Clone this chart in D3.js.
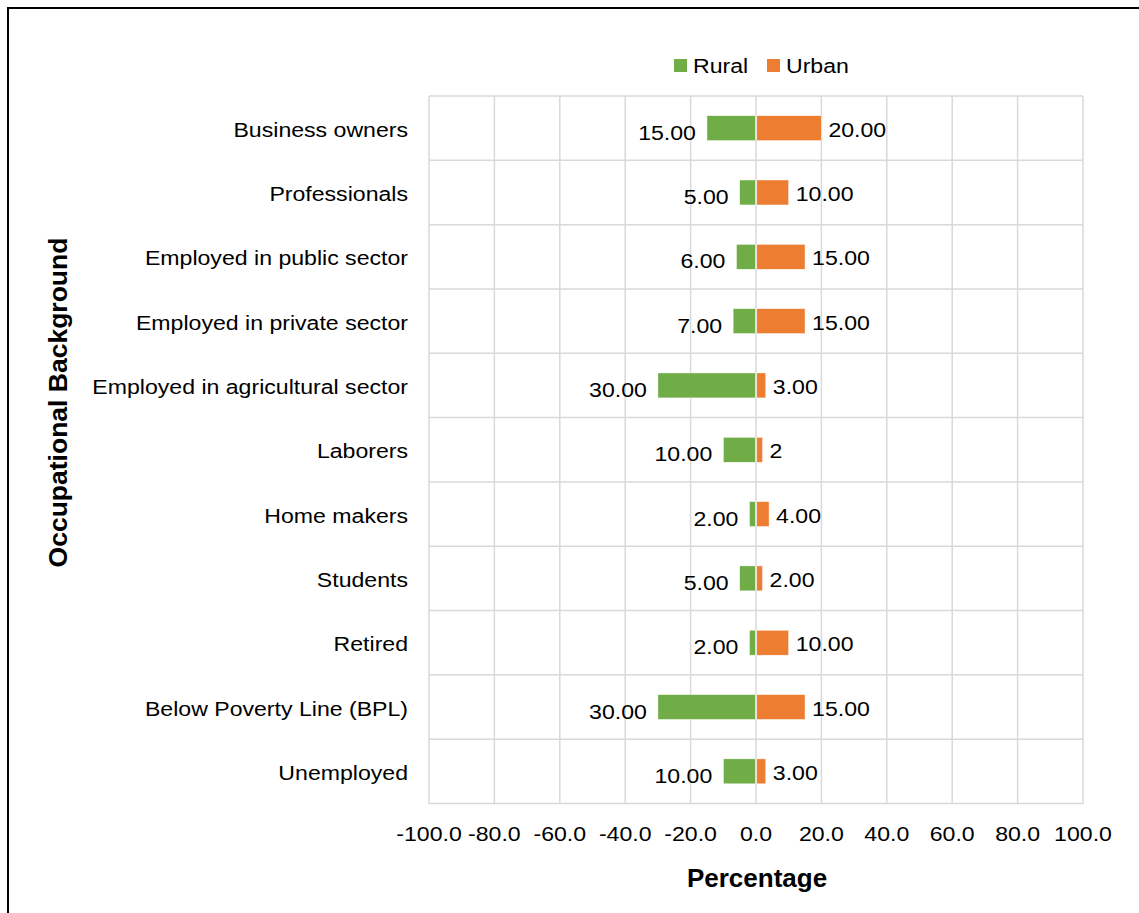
<!DOCTYPE html>
<html>
<head>
<meta charset="utf-8">
<script src="https://cdn.jsdelivr.net/npm/d3@7"></script>
<style>
  html, body { margin: 0; padding: 0; background: #fff; }
  svg { display: block; }
  text { font-family: "Liberation Sans", Arial, sans-serif; fill: #000; }
</style>
</head>
<body>
<svg id="chart" width="1139" height="913"></svg>
<script>
const categories = ["Business owners","Professionals","Employed in public sector","Employed in private sector","Employed in agricultural sector","Laborers","Home makers","Students","Retired","Below Poverty Line (BPL)","Unemployed"];
const rural = [15, 5, 6, 7, 30, 10, 2, 5, 2, 30, 10];
const urban = [20, 10, 15, 15, 3, 2, 4, 2, 10, 15, 3];
const ruralLabels = ["15.00","5.00","6.00","7.00","30.00","10.00","2.00","5.00","2.00","30.00","10.00"];
const urbanLabels = ["20.00","10.00","15.00","15.00","3.00","2","4.00","2.00","10.00","15.00","3.00"];
const xTicks = [-100,-80,-60,-40,-20,0,20,40,60,80,100];
const seriesNames = ["Rural","Urban"];
const colors = ["#70AD47","#ED7D31"];

const svg = d3.select("#chart");
const W = 1139, H = 913;
const plot = {left: 429, right: 1083, top: 96, bottom: 803.5};
const SX = 1.1;
const FS = 21;

// outer frame
svg.append("rect").attr("x", 8).attr("y", 8).attr("width", W + 20).attr("height", H + 20)
  .attr("fill", "none").attr("stroke", "#000").attr("stroke-width", 2);

const x = d3.scaleLinear().domain([-100, 100]).range([plot.left, plot.right]);
const y = d3.scaleBand().domain(categories).range([plot.top, plot.bottom]).paddingInner(0).paddingOuter(0);

function stext(parent, tx, ty, str, anchor, size, weight) {
  const g = parent.append("g").attr("transform", `translate(${tx},${ty}) scale(${SX},1)`);
  return g.append("text").attr("text-anchor", anchor).attr("font-size", size)
    .attr("font-weight", weight || "normal").text(str);
}

// grid
const grid = svg.append("g");
grid.selectAll("line.v").data(xTicks).join("line")
  .attr("x1", d => x(d)).attr("x2", d => x(d))
  .attr("y1", plot.top).attr("y2", plot.bottom)
  .attr("stroke", "#D9D9D9").attr("stroke-width", 1.5);
const bounds = categories.map(c => y(c)).concat([plot.bottom]);
grid.selectAll("line.h").data(bounds).join("line")
  .attr("x1", plot.left).attr("x2", plot.right)
  .attr("y1", d => d).attr("y2", d => d)
  .attr("stroke", "#D9D9D9").attr("stroke-width", 1.5);

// bars
const bh = 25;
const bars = svg.append("g");
bars.selectAll("rect.r").data(categories).join("rect")
  .attr("x", (d, i) => x(-rural[i])).attr("width", (d, i) => x(0) - x(-rural[i]) - 0.5)
  .attr("y", d => y(d) + y.bandwidth() / 2 - bh / 2).attr("height", bh)
  .attr("fill", colors[0]).attr("stroke", "#fff").attr("stroke-width", 0.5);
bars.selectAll("rect.u").data(categories).join("rect")
  .attr("x", x(0) + 0.8).attr("width", (d, i) => x(urban[i]) - x(0) - 0.8)
  .attr("y", d => y(d) + y.bandwidth() / 2 - bh / 2).attr("height", bh)
  .attr("fill", colors[1]).attr("stroke", "#fff").attr("stroke-width", 0.5);

// data labels
const lab = svg.append("g");
categories.forEach((c, i) => {
  const cy = y(c) + y.bandwidth() / 2;
  stext(lab, x(-rural[i]) - 11, cy + 11.5, ruralLabels[i], "end", FS);
  stext(lab, x(urban[i]) + 7, cy + 8.5, urbanLabels[i], "start", FS);
});

// category labels
const cl = svg.append("g");
categories.forEach(c => {
  stext(cl, 408, y(c) + y.bandwidth() / 2 + 8.5, c, "end", FS);
});

// x tick labels
const tl = svg.append("g");
xTicks.forEach(t => {
  stext(tl, x(t), 841, t.toFixed(1), "middle", FS);
});

// axis titles
svg.append("text").attr("x", x(0) + 1).attr("y", 887).attr("text-anchor", "middle")
  .attr("font-size", 26).attr("font-weight", "bold").text("Percentage");
svg.append("text").attr("transform", "translate(67,402.5) rotate(-90)")
  .attr("text-anchor", "middle").attr("font-size", 26.5).attr("font-weight", "bold")
  .text("Occupational Background");

// legend
const leg = svg.append("g");
const legX = [674, 767];
seriesNames.forEach((n, i) => {
  leg.append("rect").attr("x", legX[i]).attr("y", 59).attr("width", 13).attr("height", 13).attr("fill", colors[i]);
  stext(leg, legX[i] + 19, 72.5, n, "start", FS);
});
</script>
</body>
</html>
